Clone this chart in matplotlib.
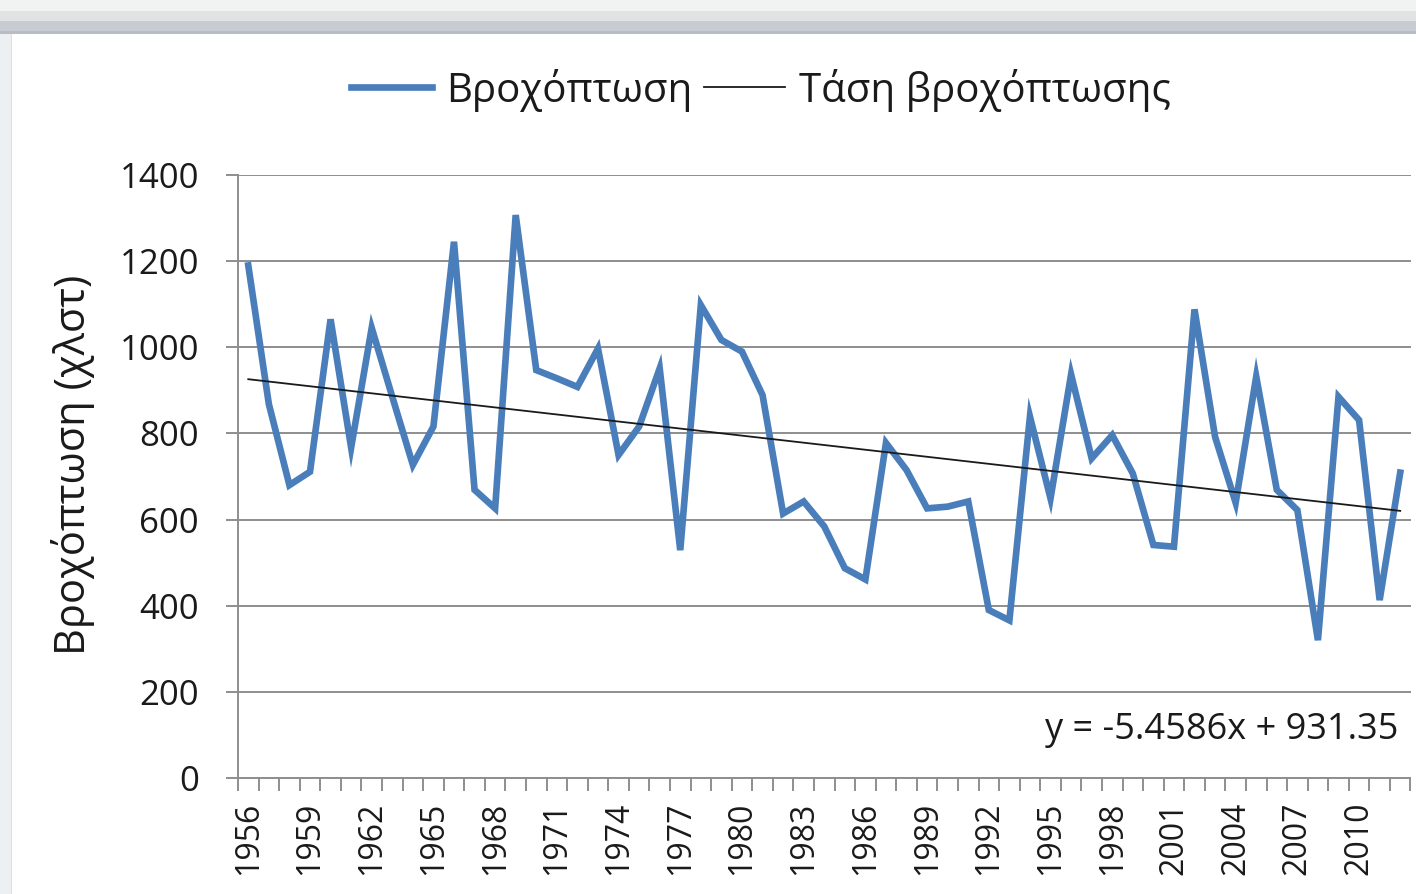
import numpy as np
import matplotlib
matplotlib.use("Agg")
import matplotlib.pyplot as plt
from matplotlib.patches import Rectangle

plt.rcParams['font.family'] = ['Open Sans', 'DejaVu Sans']

# ---- data ----
years = list(range(1956, 2013))
rainfall = [1190, 868, 680, 711, 1065, 767, 1045, 885, 727, 816,
            1245, 669, 626, 1307, 947, 928, 908, 997, 750, 816,
            951, 529, 1098, 1017, 990, 889, 614, 642, 584, 487,
            461, 778, 715, 626, 630, 642, 390, 366, 839, 649,
            937, 742, 796, 707, 541, 537, 1088, 792, 639, 932,
            669, 622, 320, 885, 831, 413, 709]
trend_slope = -5.4586
trend_intercept = 931.35
y_ticks = [0, 200, 400, 600, 800, 1000, 1200, 1400]
series_label = "Βροχόπτωση"
trend_label = "Τάση βροχόπτωσης"
y_title = "Βροχόπτωση (χλστ)"
equation = "y = -5.4586x + 931.35"

W, H = 1416, 894
fig = plt.figure(figsize=(W / 100, H / 100), dpi=100)

# screenshot frame decoration
def frect(x0, y0, x1, y1, color):
    fig.patches.append(Rectangle((x0 / W, 1 - y1 / H), (x1 - x0) / W, (y1 - y0) / H,
                                 transform=fig.transFigure, color=color, zorder=-10, lw=0))

frect(0, 0, W, 11, '#f1f2f2')
frect(0, 11, W, 21, '#e1e2e4')
frect(0, 21, W, 34, '#c7cbd2')
frect(0, 31, W, 34, '#b8bcc3')
frect(0, 34, 12, H, '#edf0f2')
frect(11, 34, 12, H, '#dde0e3')

ax = fig.add_axes([238 / W, 1 - 778 / H, (1410.5 - 238) / W, (778 - 175) / H])
ax.set_facecolor('white')

idx = np.arange(len(years))
blue = '#4a7ebb'
grey = '#8e8e8e'

ax.plot(idx, rainfall, color=blue, lw=4.8, solid_joinstyle='miter', label=series_label, zorder=3)
tx = np.array([idx[0], idx[-1]])
ty = trend_slope * (tx + 1) + trend_intercept
ax.plot(tx, ty, color='#1a1a1a', lw=1.3, label=trend_label, zorder=4)

ax.set_xlim(-0.5, len(years) - 0.5)
ax.set_ylim(0, 1400)
ax.set_yticks(y_ticks)
ax.set_yticklabels([str(v) for v in y_ticks])
ax.yaxis.grid(True, color=grey, lw=1.4)
ax.set_axisbelow(True)

for s in ['top', 'right']:
    ax.spines[s].set_visible(False)
for s in ['left', 'bottom']:
    ax.spines[s].set_color(grey)
    ax.spines[s].set_linewidth(1.4)

major_idx = [i for i, y in enumerate(years) if (y - years[0]) % 3 == 0]
ax.set_xticks(major_idx)
ax.set_xticklabels([str(years[i]) for i in major_idx], rotation=90)
ax.set_xticks(np.arange(-0.5, len(years), 1.0), minor=True)
ax.tick_params(axis='x', which='major', length=0, pad=17, labelsize=23, labelcolor='#1a1a1a')
ax.tick_params(axis='x', which='minor', length=9, width=1.4, color=grey, direction='out')
ax.tick_params(axis='y', length=9, width=1.4, color=grey, direction='out', pad=19,
               labelsize=25, labelcolor='#1a1a1a')

fig.text(73 / W, 1 - 465 / H, y_title, rotation=90, ha='center', va='center',
         fontsize=30, color='#1a1a1a')
fig.text(1398 / W, 1 - 730 / H, equation, ha='right', va='center', fontsize=26, color='#1a1a1a')

fig.legend(loc='center', bbox_to_anchor=(761 / W, 1 - 90 / H), ncol=2, frameon=False,
           fontsize=29, handlelength=2.0, handletextpad=0.35, columnspacing=0.3,
           labelcolor='#1a1a1a')

fig.savefig('out.png', dpi=100, facecolor='white')
